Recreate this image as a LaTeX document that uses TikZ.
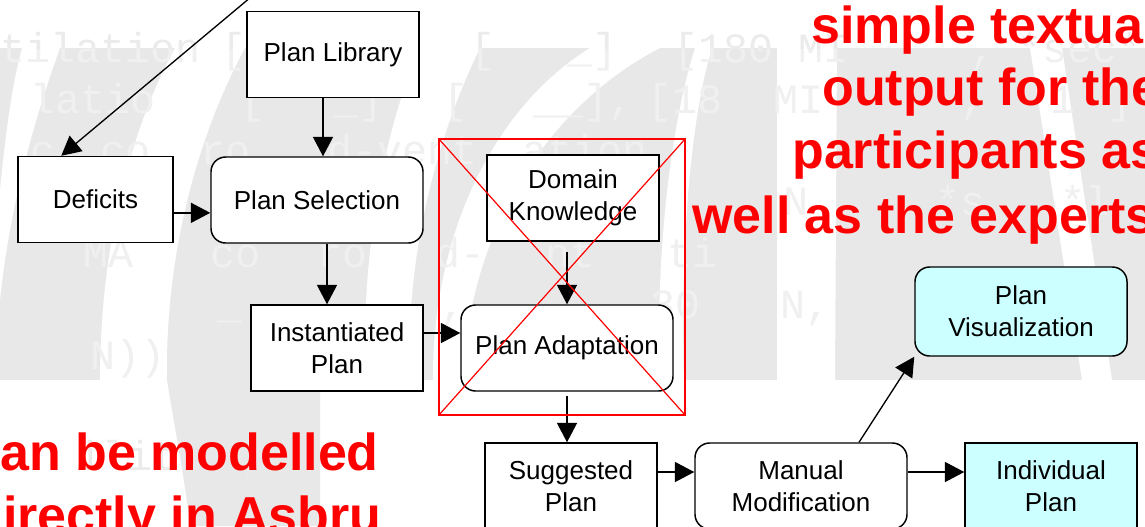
\documentclass[tikz,border=0pt]{standalone}
\usepackage{fontspec}
\setmainfont{Liberation Sans}
\newfontfamily\codefont{Liberation Mono}
\usetikzlibrary{arrows.meta,calc}
\definecolor{band}{HTML}{E8E8E8}
\definecolor{codeout}{HTML}{EBEBEB}
\definecolor{codein}{HTML}{F0F0F0}
\definecolor{planfill}{HTML}{CCFFFF}
\definecolor{markred}{HTML}{FF0000}

% faint listing fragments behind the flow chart
\newcommand\codefragments{%
  \node[code] (c1a) at (0,62) {tilation};
  \node[code] (c1b) at (221,62) {[};
  \node[code] (c1c) at (470,62) {[};
  \node[code] (c1d) at (567,62) {\_]};
  \node[code] (c1e) at (673,62) {[180 MI};
  \node[code] (c1f) at (970,62) {,};
  \node[code] (c1g) at (1017,62) {*sec*};
  \node[code] (c2a) at (30,113) {latio};
  \node[code] (c2b) at (240,113) {[};
  \node[code] (c2c) at (333,113) {\_]};
  \node[code] (c2d) at (443,113) {[};
  \node[code] (c2e) at (533,113) {\_\_],};
  \node[code] (c2f) at (647,113) {[18};
  \node[code] (c2g) at (773,113) {MI};
  \node[code] (c2h) at (960,113) {,};
  \node[code] (c2i) at (1050,113) {1};
  \node[code] (c2j) at (1107,113) {]};
  \node[code] (c3a) at (30,164) {c};
  \node[code] (c3b) at (100,164) {co};
  \node[code] (c3c) at (200,164) {ro};
  \node[code] (c3d) at (327,164) {d-vent};
  \node[code] (c3e) at (522,164) {ation};
  \node[code] (c4a) at (783,215) {N};
  \node[code] (c4b) at (935,215) {*s};
  \node[code] (c4c) at (1060,215) {*l};
  \node[code] (c5a) at (83,267) {MA};
  \node[code] (c5b) at (210,267) {co};
  \node[code] (c5c) at (317,267) {ro};
  \node[code] (c5d) at (435,267) {d-};
  \node[code] (c5e) at (545,267) {nt};
  \node[code] (c5f) at (667,267) {ti};
  \node[code] (c6a) at (217,318) {\_};
  \node[code] (c6b) at (440,318) {,};
  \node[code] (c6c) at (650,318) {30};
  \node[code] (c6d) at (780,318) {N,};
  \node[code] (c7a) at (90,369) {N))};
  \node[code] (c8a) at (77,470) {ilit};
  \node[code] (c8b) at (240,470) {,};
}

\begin{document}
\begin{tikzpicture}[x=0.75pt,y=-0.75pt,
  font=\fontsize{19.5}{24}\selectfont,
  plainbox/.style={draw, line width=1.1pt, fill=white, align=center,
    inner sep=2pt, minimum width=129pt, minimum height=64.5pt},
  roundbox/.style={plainbox, rounded corners=11pt},
  widebox/.style={minimum width=159pt},
  arr/.style={line width=1pt, -{Triangle[length=14.5pt,width=15pt]}},
  redtext/.style={text=markred, anchor=base west, inner sep=0pt,
    font=\fontsize{39}{47}\selectfont\bfseries},
  code/.style={anchor=base west, inner sep=0pt,
    font=\codefont\fontsize{31.25}{31.25}\selectfont},
  strike/.style={draw=markred, line width=0.9pt}]

\useasboundingbox (0,0) rectangle (1145,526);
\begin{scope}
\clip (0,0) rectangle (1145,526);

% grey watermark band with white letter strokes
\fill[band] (0,48) rectangle (1145,380);
\fill[band] (167,380) .. controls (175,430) and (185,480) .. (190,526)
  -- (320,526) -- (320,380) -- cycle;
\fill[white] (22,48) -- (60,48) .. controls (30,130) and (8,220) .. (0,300)
  -- (0,190) .. controls (6,130) and (12,85) .. (22,48) -- cycle;
\fill[white] (175,48) -- (245,48) .. controls (195,140) and (165,260) .. (167,380)
  -- (100,380) .. controls (100,260) and (125,140) .. (175,48) -- cycle;
\fill[white] (420,48) -- (480,48) .. controls (435,140) and (405,260) .. (410,380)
  -- (365,380) .. controls (362,260) and (380,140) .. (420,48) -- cycle;
\fill[white] (590,48) -- (660,48) .. controls (540,110) and (468,240) .. (463,380)
  -- (433,380) .. controls (432,240) and (490,110) .. (590,48) -- cycle;
\fill[white] (660,380) .. controls (655,250) and (672,120) .. (695,48)
  -- (712,48) .. controls (690,120) and (680,250) .. (684,380) -- cycle;
\fill[white] (777,48) -- (837,48) -- (835,380) -- (777,380) -- cycle;
\fill[white] (1030,48) -- (1062,48) -- (1112,380) -- (1082,380) -- cycle;

\begin{scope}
  \clip (0,48) rectangle (1145,380);
  \begin{scope}[text=codein]\codefragments\end{scope}
\end{scope}
\begin{scope}
  \clip (0,0) rectangle (1145,48) (0,380) rectangle (1145,526);
  \begin{scope}[text=codeout]\codefragments\end{scope}
\end{scope}

% flow chart
\node[plainbox] (lib) at (333,54.5) {Plan Library};
\node[plainbox, minimum width=116.25pt] (def) at (95.5,199.5) {Deficits};
\node[roundbox, widebox] (sel) at (317,200) {Plan Selection};
\node[plainbox] (inst) at (337,348) {Instantiated\\Plan};
\node[plainbox] (dom) at (573,198) {Domain\\Knowledge};
\node[roundbox, widebox] (adapt) at (567,348) {Plan Adaptation};
\node[plainbox] (sugg) at (571,486) {Suggested\\Plan};
\node[roundbox, widebox] (manual) at (801,486) {Manual\\Modification};
\node[plainbox, fill=planfill] (indiv) at (1051,486) {Individual\\Plan};
\node[roundbox, widebox, fill=planfill, minimum height=66.75pt] (vis)
  at (1021,311.5) {Plan\\Visualization};

\coordinate (feed) at (251,-3);
\draw[arr] (feed) -- ([xshift=33pt]def.north west);
\draw[arr] ([xshift=-7.5pt]lib.south) -- ([xshift=-7.5pt]lib.south |- sel.north);
\draw[arr] ([yshift=-10pt]def.east) -- ([yshift=-10pt]def.east -| sel.west);
\draw[arr] ([xshift=7.5pt]sel.south) -- ([xshift=7.5pt]sel.south |- inst.north);
\draw[arr] ([yshift=11.25pt]inst.east) -- ([yshift=11.25pt]inst.east -| adapt.west);
\draw[arr] ([xshift=-4.5pt,yshift=-7.5pt]dom.south) -- ([xshift=-4.5pt]dom.south |- adapt.north);
\draw[arr] ([yshift=-3pt]adapt.south) -- (adapt.south |- sugg.north);
\draw[arr] ([yshift=10.5pt]sugg.east) -- ([yshift=10.5pt]sugg.east -| manual.west);
\draw[arr] ([yshift=10.5pt]manual.east) -- ([yshift=10.5pt]manual.east -| indiv.west);
\draw[arr] ([xshift=43.5pt]manual.north) -- (vis.south west);

% crossed-out adaptation step
\node[strike, minimum width=184.5pt, minimum height=207pt, inner sep=0pt]
  (cross) at (562,277) {};
\draw[strike] (cross.north west) -- (cross.south east)
  (cross.north east) -- (cross.south west);

% red annotations
\node[redtext] (r1) at (811,43) {simple textual};
\node[redtext] (r2) at (822,105) {output for the};
\node[redtext] (r3) at (792,168) {participants as};
\node[redtext] (r4) at (692,233) {well as the experts};
\node[redtext] (r5) at (-29,470) {can be modelled};
\node[redtext] (r6) at (-29,533) {directly in Asbru};
\end{scope}
\end{tikzpicture}
\end{document}
